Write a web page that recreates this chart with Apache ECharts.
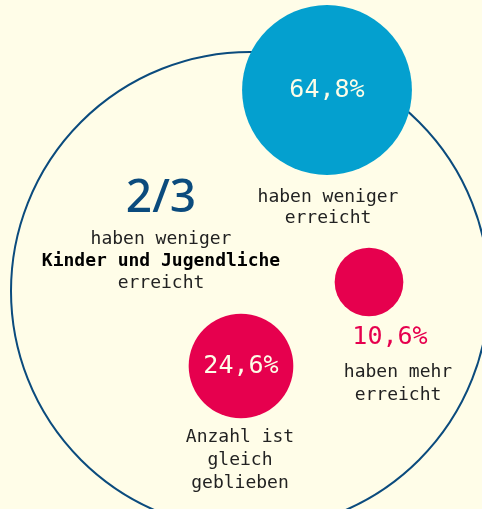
<!DOCTYPE html>
<html>
<head>
<meta charset="utf-8">
<script src="https://cdn.jsdelivr.net/npm/echarts@6/dist/echarts.min.js"></script>
<style>
  html, body { margin: 0; padding: 0; background: #fffde8; }
  #chart { width: 482px; height: 509px; }
</style>
</head>
<body>
<div id="chart"></div>
<script>
// data
var shares = [64.8, 10.6, 24.6];
var shareLabels = ['64,8%', '10,6%', '24,6%'];
var shareTexts = [
    ['haben weniger', 'erreicht'],
    ['haben mehr', 'erreicht'],
    ['Anzahl ist', 'gleich', 'geblieben']
];
var shareColors = ['#04a0cf', '#e6004e', '#e6004e'];
var headline = '2/3';
var headlineTexts = ['haben weniger', 'Kinder und Jugendliche', 'erreicht'];

// layout (chart units = pixels of the 482x509 canvas)
var bubblePos = [[327, 90], [369, 282], [241, 366]];
var outerPos = [250, 291];
var outerSize = 478;
var sizeScale = 21.1; // diameter per sqrt(%)

var mono = '"DejaVu Sans Mono", monospace';
var ink = '#222';
var navy = '#0b4b7d';

var myChart = echarts.init(document.getElementById('chart'));

var bubbles = shares.map(function (v, i) {
    return {
        value: [bubblePos[i][0], bubblePos[i][1], v],
        name: shareLabels[i],
        itemStyle: { color: shareColors[i] },
        label: { show: i !== 1 }
    };
});

var graphics = [
    {
        type: 'text',
        x: 161, y: 199,
        style: {
            text: headline,
            fill: navy, font: '500 46px "Noto Sans", sans-serif',
            align: 'center', verticalAlign: 'middle'
        }
    },
    {
        type: 'text',
        x: 161, y: 261,
        style: {
            text: '{n|' + headlineTexts[0] + '}\n{b|' + headlineTexts[1] + '}\n{n|' + headlineTexts[2] + '}',
            align: 'center', verticalAlign: 'middle',
            rich: {
                n: { font: '18px ' + mono, fill: ink, lineHeight: 22 },
                b: { font: 'bold 18px ' + mono, fill: '#000', lineHeight: 22 }
            }
        }
    },
    {
        type: 'text',
        x: 328, y: 207.5,
        style: {
            text: shareTexts[0].join('\n'), align: 'center', verticalAlign: 'middle',
            font: '18px ' + mono, fill: ink, lineHeight: 21
        }
    },
    {
        type: 'text',
        x: 390, y: 337,
        style: {
            text: shareLabels[1], align: 'center', verticalAlign: 'middle',
            font: '25px ' + mono, fill: shareColors[1]
        }
    },
    {
        type: 'text',
        x: 398, y: 383.5,
        style: {
            text: shareTexts[1].join('\n'), align: 'center', verticalAlign: 'middle',
            font: '18px ' + mono, fill: ink, lineHeight: 23
        }
    },
    {
        type: 'text',
        x: 240, y: 460,
        style: {
            text: shareTexts[2].join('\n'), align: 'center', verticalAlign: 'middle',
            font: '18px ' + mono, fill: ink, lineHeight: 23
        }
    }
];

var option = {
    backgroundColor: '#fffde8',
    animation: false,
    grid: { left: 0, right: 0, top: 0, bottom: 0 },
    xAxis: { type: 'value', min: 0, max: 482, show: false },
    yAxis: { type: 'value', min: 0, max: 509, inverse: true, show: false },
    series: [
        {
            type: 'scatter',
            z: 1,
            silent: true,
            symbolSize: outerSize,
            data: [outerPos],
            itemStyle: { color: 'rgba(0,0,0,0)', borderColor: navy, borderWidth: 2, opacity: 1 }
        },
        {
            type: 'scatter',
            z: 2,
            data: bubbles,
            symbolSize: function (val) { return sizeScale * Math.sqrt(val[2]); },
            itemStyle: { opacity: 1 },
            label: {
                position: 'inside',
                formatter: function (p) { return p.name; },
                color: '#fdfde8',
                fontFamily: mono,
                fontSize: 25
            }
        }
    ],
    graphic: graphics
};
myChart.setOption(option);
</script>
</body>
</html>
